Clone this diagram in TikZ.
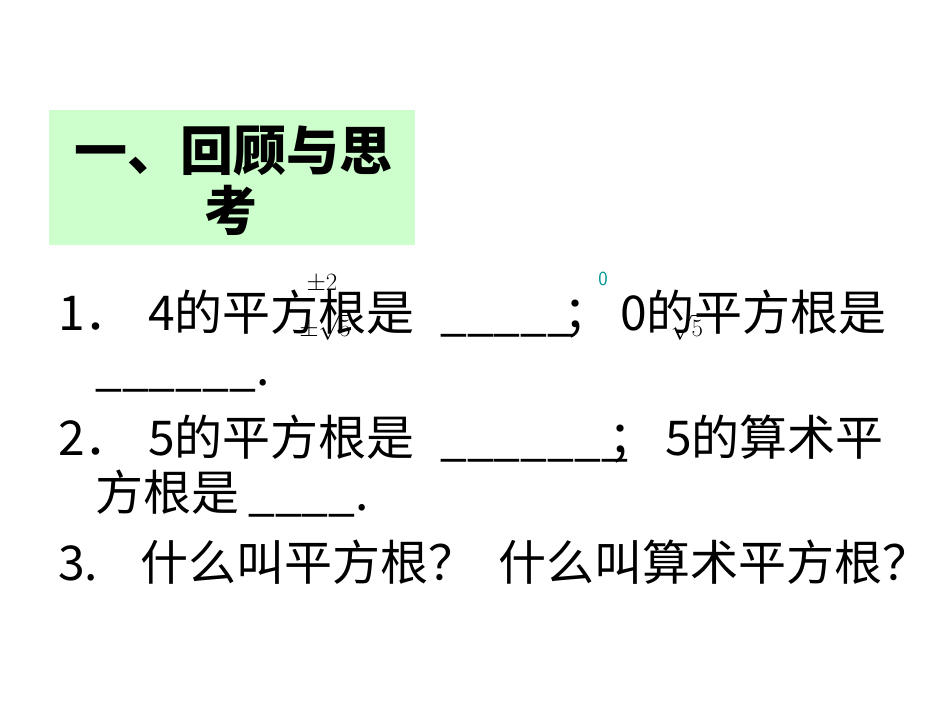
\documentclass[tikz,border=0pt]{standalone}
\usepackage{fontspec}
\newfontfamily\cjk{Noto Sans CJK SC}
\begin{document}
\begin{tikzpicture}[x=1pt,y=-1pt,
  line/.style={anchor=base west,inner sep=0pt,font=\cjk\fontsize{48}{52}\selectfont},
  title/.style={anchor=base west,inner sep=0pt,font=\cjk\bfseries\fontsize{53}{60}\selectfont},
  over/.style={inner sep=0pt,font=\fontsize{24}{26}\selectfont}]
\useasboundingbox (0,0) rectangle (950,713);
\fill[fill={rgb,255:red,204;green,255;blue,204}] (49,110) rectangle (415,245);
\node[title] (t1) at (74,170) {一、回顾与思};
\node[title] (t2) at (204,230) {考};
% line 1
\node[line] (n1) at (58,330) {1．};
\node[line] (p1) at (148,330) {4的平方根是};
\node[line] (u1) at (440,330) {\_\_\_\_\_};
\node[line] (s1) at (563,330) {；};
\node[line] (q1) at (620,330) {0的平方根是};
\node[line] (u2) at (95,385) {\_\_\_\_\_\_.};
% line 2
\node[line] (n2) at (58,455) {2．};
\node[line] (p2) at (148,455) {5的平方根是};
\node[line] (u3) at (440,455) {\_\_\_\_\_\_\_};
\node[line] (s2) at (608,455) {；};
\node[line] (q2) at (665,455) {5的算术平};
\node[line] (r2) at (95,510) {方根是};
\node[line] (u4) at (248,510) {\_\_\_\_.};
% line 3
\node[line] (n3) at (58,580) {3.};
\node[line] (p3) at (140,580) {什么叫平方根？};
\node[line] (q3) at (498,580) {什么叫算术平方根？};
% overlays
\node[over] (a1) at (322,284) {$\pm2$};
\node[over] (a2) at (325,327) {$\pm\sqrt5$};
\node[inner sep=0pt,text={rgb,255:red,0;green,150;blue,150},font=\sffamily\fontsize{20}{22}\selectfont] (a3) at (603,279) {0};
\node[over] (a4) at (687,327) {$\sqrt5$};
\end{tikzpicture}
\end{document}
